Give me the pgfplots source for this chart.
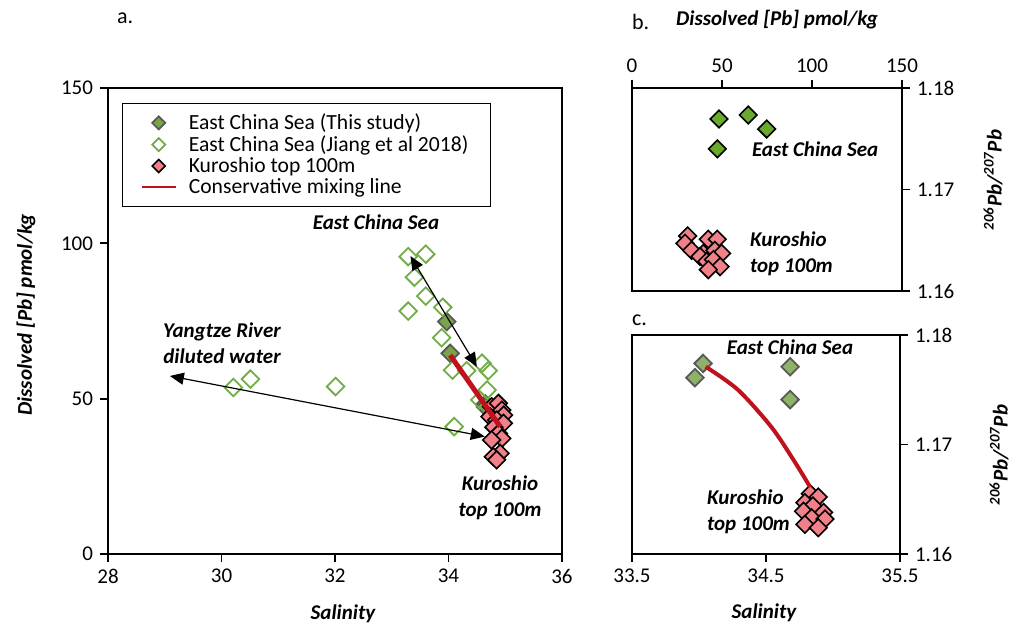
\documentclass[border=0pt]{standalone}
\usepackage{pgfplots}
\pgfplotsset{compat=1.18}
\usepackage{fontspec}
\setmainfont{Carlito}
\usetikzlibrary{arrows.meta}

\definecolor{thisfill}{RGB}{122,164,76}
\definecolor{thisedge}{RGB}{89,89,89}
\definecolor{jiang}{RGB}{112,173,71}
\definecolor{kuro}{RGB}{241,128,136}
\definecolor{mixred}{RGB}{192,18,28}
\definecolor{bgreen}{RGB}{106,168,46}

\pgfplotsset{
  every axis/.append style={
    scale only axis,
    axis line style={line width=0.9pt},
    tick style={line width=0.9pt, black},
    tick align=outside,
    major tick length=4pt,
    ticklabel style={font=\fontsize{10.5}{12}\selectfont},
    /pgf/number format/assume math mode=true,
    clip marker paths=true,
  },
  dia/.style={only marks, mark=square*, mark size=3.1pt, mark options={rotate=45}},
  diaopen/.style={only marks, mark=square, mark size=3.1pt, mark options={rotate=45, draw=jiang, line width=0.9pt}},
}

\newcommand{\bi}{\fontsize{10.5}{13}\selectfont\bfseries\itshape}

\begin{document}
\begin{tikzpicture}
\useasboundingbox (0pt,0pt) rectangle (511.5pt,-312.5pt);

% ---------------- panel a ----------------
\begin{axis}[
  at={(54pt,-277pt)}, anchor=south west,
  width=227pt, height=233pt,
  xmin=28, xmax=36, ymin=0, ymax=150,
  xtick={28,30,32,34,36}, ytick={0,50,100,150},
  xtick pos=left, ytick pos=left,
  legend cell align=left,
  legend style={at={(0.031,0.968)}, anchor=north west, draw=black, line width=0.6pt,
    font=\fontsize{10.8}{11}\selectfont, row sep=-2.5pt, column sep=4pt,
    inner xsep=9pt, inner ysep=3pt},
]
% East China Sea (This study)
\addplot[dia, mark options={rotate=45, fill=thisfill, draw=thisedge, line width=0.9pt},
  legend image post style={mark size=2.3pt}]
  coordinates {(33.97,74.8) (34.03,64.6) (34.65,48.3) (34.65,47.4)};
\addlegendentry{East China Sea (This study)}
% Jiang et al 2018
\addplot[diaopen, legend image post style={mark size=2.3pt}] coordinates {
  (33.29,95.7) (33.60,96.5) (33.40,89.1) (33.60,83.0) (33.29,78.2) (33.90,79.4)
  (33.88,69.6) (34.07,59.2) (34.32,59.0) (34.59,61.4) (34.70,59.0) (34.68,52.8)
  (34.55,49.6) (34.10,41.0) (30.21,53.6) (30.51,56.3) (32.01,53.9)};
\addlegendentry{East China Sea (Jiang et al 2018)}
% Kuroshio
\addplot[dia, mark options={rotate=45, fill=kuro, draw=black, line width=0.8pt},
  legend image post style={mark size=2.3pt}] coordinates {
  (34.76,47.4) (34.88,48.5) (34.94,46.3) (34.73,44.2) (34.97,44.7) (34.85,43.1)
  (34.97,42.1) (34.80,40.8) (34.88,38.8) (34.94,37.2) (34.76,36.7) (34.91,32.4)
  (34.79,31.3) (34.85,30.3)};
\addlegendentry{Kuroshio top 100m}
% mixing line
\addplot[mixred, line width=2.5pt, no marks,
  legend image post style={line width=1pt}]
  coordinates {(34.03,64.0) (34.91,41.0)};
\addlegendentry{Conservative mixing line}
% arrows
\draw[black, line width=0.6pt, {Triangle[length=7pt,width=6pt]}-{Triangle[length=7pt,width=6pt]}]
  (axis cs:33.33,95.9) -- (axis cs:34.50,60.3);
\draw[black, line width=0.6pt, {Triangle[length=7pt,width=6pt]}-{Triangle[length=7pt,width=6pt]}]
  (axis cs:29.09,57.3) -- (axis cs:34.64,37.8);
\end{axis}

% ---------------- panel b ----------------
\begin{axis}[
  at={(316pt,-145.5pt)}, anchor=south west,
  width=135pt, height=101.5pt,
  xmin=0, xmax=150, ymin=1.16, ymax=1.18,
  xtick={0,50,100,150}, ytick={1.16,1.17,1.18},
  xtick pos=right, xticklabel pos=right,
  ytick pos=right, yticklabel pos=right,
  yticklabel style={/pgf/number format/.cd, fixed, fixed zerofill, precision=2},
]
\addplot[dia, mark options={rotate=45, fill=bgreen, draw=black, line width=0.8pt}]
  coordinates {(48.3,1.17695) (64.6,1.17734) (74.8,1.17596) (47.4,1.1740)};
\addplot[dia, mark options={rotate=45, fill=kuro, draw=black, line width=0.8pt}] coordinates {
  (30.9,1.16542) (29.4,1.1647) (42.4,1.1651) (47.4,1.1651) (33.1,1.1640) (39.6,1.1637)
  (46.1,1.1640) (49.8,1.1637) (37.8,1.1634) (41.5,1.1629) (45.2,1.1631) (48.9,1.1624)
  (42.4,1.1621)};
\end{axis}

% ---------------- panel c ----------------
\begin{axis}[
  at={(316pt,-277pt)}, anchor=south west,
  width=134pt, height=109.5pt,
  xmin=33.5, xmax=35.5, ymin=1.16, ymax=1.18,
  xtick={33.5,34.5,35.5}, ytick={1.16,1.17,1.18},
  xtick pos=left,
  ytick pos=right, yticklabel pos=right,
  xticklabel style={/pgf/number format/.cd, fixed, fixed zerofill, precision=1},
  yticklabel style={/pgf/number format/.cd, fixed, fixed zerofill, precision=2},
]
\addplot[dia, mark options={rotate=45, fill=thisfill!85!white, draw=thisedge, line width=0.9pt}]
  coordinates {(33.97,1.1761) (34.03,1.1774) (34.68,1.1771) (34.68,1.1741)};
\addplot[dia, mark options={rotate=45, fill=kuro, draw=black, line width=0.8pt}] coordinates {
  (34.83,1.1655) (34.89,1.1652) (34.79,1.1647) (34.85,1.1644) (34.78,1.1639) (34.93,1.1638)
  (34.84,1.1633) (34.94,1.1632) (34.79,1.1627) (34.89,1.1624)};
\addplot[mixred, line width=2pt, no marks, smooth] coordinates {
  (34.05,1.1771) (34.29,1.1750) (34.54,1.1716) (34.71,1.1685) (34.83,1.1661)};
\end{axis}

% ---------------- labels ----------------
\node[anchor=west, font=\fontsize{11}{13}\selectfont] at (55pt,-9pt) {a.};
\node[anchor=west, font=\fontsize{11}{13}\selectfont] at (312.5pt,-11pt) {b.};
\node[anchor=west, font=\fontsize{11}{13}\selectfont] at (312.5pt,-160pt) {c.};

\node[font=\bi] at (171.5pt,-307pt) {Salinity};
\node[font=\bi, rotate=90] at (13pt,-157.5pt) {Dissolved [Pb] pmol/kg};
\node[font=\bi] at (388.5pt,-10pt) {Dissolved [Pb] pmol/kg};
\node[font=\bi] at (382pt,-306.5pt) {Salinity};
\node[font=\bi, rotate=90] at (496.5pt,-90pt) {\textsuperscript{206}Pb/\textsuperscript{207}Pb};
\node[font=\bi, rotate=90] at (499.5pt,-227.5pt) {\textsuperscript{206}Pb/\textsuperscript{207}Pb};

\node[font=\bi] at (188pt,-111pt) {East China Sea};
\node[font=\bi, align=center] at (111pt,-171.5pt) {Yangtze River\\diluted water};
\node[font=\bi, align=center] at (250pt,-249pt) {Kuroshio\\top 100m};
\node[font=\bi, anchor=west] at (372.5pt,-74.5pt) {East China Sea};
\node[font=\bi, align=left, anchor=west] at (371.5pt,-127pt) {Kuroshio\\top 100m};
\node[font=\bi] at (395pt,-173.5pt) {East China Sea};
\node[font=\bi, align=left, anchor=west] at (350pt,-256pt) {Kuroshio\\top 100m};
\end{tikzpicture}
\end{document}
